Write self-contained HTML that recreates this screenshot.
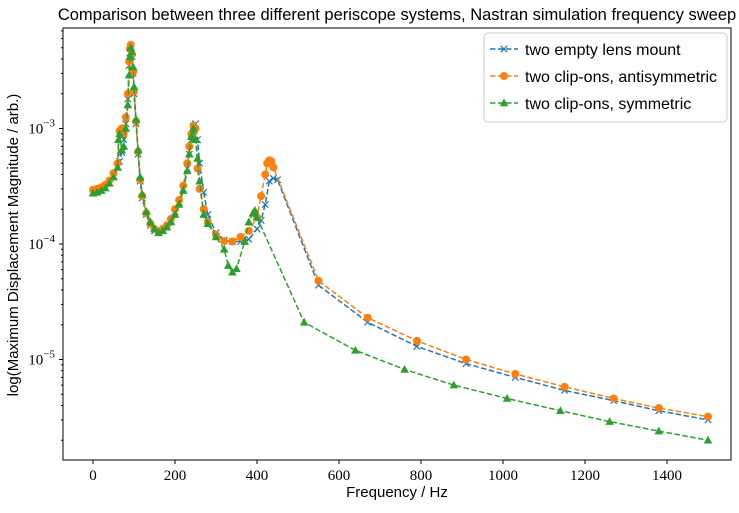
<!DOCTYPE html>
<html><head><meta charset="utf-8"><style>
body{margin:0;background:#fff;width:739px;height:508px;overflow:hidden}
svg text{font-family:"Liberation Sans",sans-serif;fill:#000}
.tk{font-family:"Liberation Serif",serif;font-size:15px}
</style></head><body>
<svg id="chart" width="739" height="508">
<text x="397" y="20" text-anchor="middle" font-size="16.5">Comparison between three different periscope systems, Nastran simulation frequency sweep</text>
<g id="plot"></g>
<text x="397" y="497" text-anchor="middle" font-size="15">Frequency / Hz</text>
<text transform="translate(18,245) rotate(-90)" text-anchor="middle" font-size="15">log(Maximum Displacement Magnitude / arb.)</text>
</svg>
<script>
const xTicks=[0,200,400,600,800,1000,1200,1400];
const yDecades=[-5,-4,-3];
const blueF=[0,10,20,30,40,50,60,65,70,75,80,85,88,90,92,95,98,100,105,110,115,120,130,140,150,160,170,180,190,200,210,220,230,235,240,245,250,255,260,270,280,300,320,340,360,380,400,410,420,430,440,450,550,670,790,910,1030,1150,1270,1380,1500];
const blueV=[2.8e-4,2.85e-4,2.95e-4,3.1e-4,3.4e-4,3.9e-4,4.6e-4,5.2e-4,6.2e-4,8e-4,1.1e-3,1.8e-3,3.5e-3,4.5e-3,5e-3,4.2e-3,3e-3,2e-3,1.1e-3,6e-4,3.5e-4,2.5e-4,1.8e-4,1.45e-4,1.3e-4,1.25e-4,1.3e-4,1.4e-4,1.6e-4,1.9e-4,2.3e-4,3e-4,4.5e-4,6e-4,8e-4,1.05e-3,1.1e-3,8e-4,5e-4,2.8e-4,1.8e-4,1.25e-4,1.08e-4,1.05e-4,1.05e-4,1.1e-4,1.35e-4,1.6e-4,2.2e-4,3.5e-4,3.7e-4,3.6e-4,4.4e-5,2.1e-5,1.3e-5,9.2e-6,7e-6,5.4e-6,4.4e-6,3.6e-6,3e-6];
const orangeF=[0,10,20,30,40,50,60,65,70,75,80,85,88,90,92,95,98,100,105,110,115,120,130,140,150,160,170,180,190,200,210,220,230,235,240,245,250,255,260,270,280,300,320,340,360,380,400,410,420,425,430,435,440,550,670,790,910,1030,1150,1270,1380,1500];
const orangeV=[2.95e-4,3e-4,3.1e-4,3.25e-4,3.55e-4,4.1e-4,5e-4,9.5e-4,1e-3,9e-4,1.25e-3,2e-3,3.8e-3,4.9e-3,5.3e-3,4.4e-3,3.1e-3,2.1e-3,1.15e-3,6.3e-4,3.6e-4,2.6e-4,1.85e-4,1.5e-4,1.35e-4,1.28e-4,1.35e-4,1.45e-4,1.65e-4,2e-4,2.4e-4,3.2e-4,5e-4,7e-4,9e-4,1.05e-3,1e-3,4.5e-4,3e-4,2e-4,1.55e-4,1.2e-4,1.06e-4,1.05e-4,1.15e-4,1.3e-4,1.7e-4,2.6e-4,4e-4,5e-4,5.3e-4,5.2e-4,4.6e-4,4.8e-5,2.3e-5,1.45e-5,1e-5,7.5e-6,5.8e-6,4.6e-6,3.8e-6,3.2e-6];
const greenF=[0,10,20,30,40,50,60,62,65,70,75,80,85,88,90,92,95,98,100,105,110,115,120,130,140,150,160,170,180,190,200,210,220,230,235,240,245,250,255,260,270,280,300,320,330,340,350,370,380,390,395,400,515,640,760,880,1010,1140,1260,1380,1500];
const greenV=[2.75e-4,2.8e-4,2.9e-4,3.05e-4,3.35e-4,3.8e-4,4.6e-4,8e-4,9e-4,6.5e-4,7e-4,1e-3,1.6e-3,2.9e-3,4.2e-3,5e-3,4.6e-3,3.4e-3,2.3e-3,1.2e-3,6.5e-4,3.8e-4,2.7e-4,1.9e-4,1.55e-4,1.35e-4,1.25e-4,1.3e-4,1.4e-4,1.55e-4,1.8e-4,2.2e-4,2.9e-4,4.3e-4,6e-4,8.5e-4,1e-3,8e-4,5.5e-4,3.5e-4,1.8e-4,1.5e-4,1.15e-4,9e-5,6.5e-5,5.7e-5,6.1e-5,1.05e-4,1.55e-4,1.85e-4,1.95e-4,1.7e-4,2.1e-5,1.2e-5,8.2e-6,6e-6,4.6e-6,3.6e-6,2.9e-6,2.4e-6,2e-6];

const L=63,R=731,T=28,B=460;
const X=f=>93+f*0.41;
const Y=v=>244-115.5*Math.log10(v/1e-4);
const ns="http://www.w3.org/2000/svg";
const g=document.getElementById('plot');
function mk(t,a,p){const e=document.createElementNS(ns,t);for(const k in a)e.setAttribute(k,a[k]);(p||g).appendChild(e);return e;}
const spine=mk('rect',{x:L,y:T,width:R-L,height:B-T,fill:'none',stroke:'#000','stroke-width':1});


xTicks.forEach(t=>{
  mk('line',{x1:X(t),x2:X(t),y1:B,y2:B+4,stroke:'#000'});
  const tx=mk('text',{x:X(t),y:B+20,'text-anchor':'middle',class:'tk'});tx.textContent=t;
  
  
});
for(let d=-6;d<=-2;d++){
  for(let m=1;m<10;m++){
    const v=m*Math.pow(10,d);const y=Y(v);
    if(y<T||y>B)continue;
    mk('line',{x1:L-(m==1?4:2),x2:L,y1:y,y2:y,stroke:'#000'});
  }
}
yDecades.forEach(d=>{
  const y=Y(Math.pow(10,d));
  const tx=mk('text',{x:L-8,y:y+5,'text-anchor':'end',class:'tk'});
  tx.innerHTML='10<tspan dy="-7" font-size="11">−'+(-d)+'</tspan>';
  
  
});
function series(F,V,color,marker,name){
  const s=mk('g',{});
  
  
  mk('polyline',{points:F.map((f,i)=>X(f)+','+Y(V[i])).join(' '),fill:'none',stroke:color,'stroke-width':1.5,'stroke-dasharray':'5.5,2.5'},s);
  F.forEach((f,i)=>drawMarker(s,X(f),Y(V[i]),color,marker));
}
function drawMarker(p,x,y,c,m){
  if(m=='x'){mk('path',{d:`M${x-3.2},${y-3.2}L${x+3.2},${y+3.2}M${x-3.2},${y+3.2}L${x+3.2},${y-3.2}`,stroke:c,'stroke-width':1.2},p);}
  else if(m=='o'){mk('circle',{cx:x,cy:y,r:4,fill:c},p);}
  else{mk('path',{d:`M${x},${y-4.5}L${x+4.3},${y+3.3}L${x-4.3},${y+3.3}Z`,fill:c},p);}
}
series(blueF,blueV,'#1f77b4','x','series-empty-lens-mount');
series(orangeF,orangeV,'#ff7f0e','o','series-clip-ons-antisymmetric');
series(greenF,greenV,'#2ca02c','^','series-clip-ons-symmetric');
const lg=mk('g',{});


mk('rect',{x:484,y:33,width:243,height:89,rx:4,fill:'#fff','fill-opacity':0.85,stroke:'#ccc'},lg);
[['two empty lens mount','#1f77b4','x'],['two clip-ons, antisymmetric','#ff7f0e','o'],['two clip-ons, symmetric','#2ca02c','^']].forEach((e,i)=>{
  const y=49+i*27;
  const en=mk('g',{},lg);
  
  
  mk('line',{x1:490,x2:518,y1:y,y2:y,stroke:e[1],'stroke-width':1.5,'stroke-dasharray':'5.5,2.5'},en);
  drawMarker(en,504,y,e[1],e[2]);
  const t=mk('text',{x:525,y:y+6,'font-size':16},en);t.textContent=e[0];
});
</script>
</body></html>
